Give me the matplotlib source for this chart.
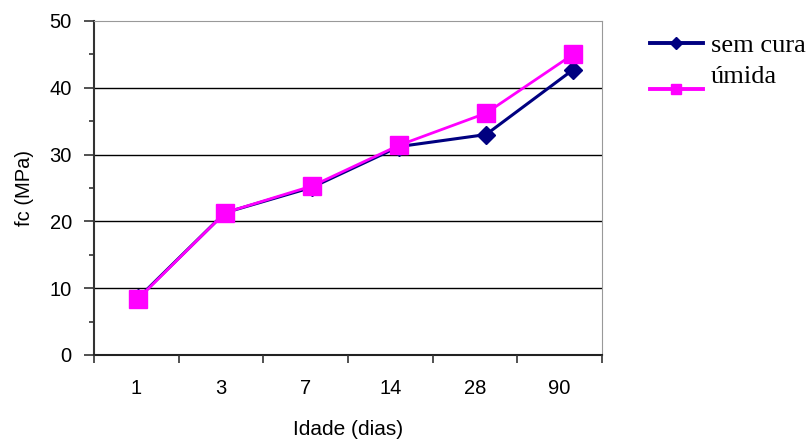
import numpy as np
import matplotlib.pyplot as plt

# dados
idades = ["1", "3", "7", "14", "28", "90"]
sem_cura = [8.5, 21.3, 25.1, 31.2, 33.0, 42.7]
umida = [8.4, 21.3, 25.3, 31.4, 36.2, 45.0]

fig = plt.figure(figsize=(8.1, 4.43), dpi=100)
ax = fig.add_axes([94 / 810, 88 / 443, 508 / 810, 334 / 443])

x = np.arange(len(idades))
ax.plot(x, sem_cura, color="#000080", linewidth=2.2, marker="D",
        markersize=9, label="sem cura", zorder=3)
ax.plot(x, umida, color="#FF00FF", linewidth=2.0, marker="s",
        markersize=13, label="úmida\n", zorder=4)

# no original (Excel) os pontos ficam levemente deslocados das categorias
ax.set_xlim(-0.506, 5.333)
ax.set_ylim(0, 50)
ax.set_xticks([])

for v in [10, 20, 30, 40]:
    ax.axhline(v, color="black", linewidth=1.0, zorder=1)

ax.set_yticks([0, 10, 20, 30, 40, 50])
ax.set_yticks([5, 15, 25, 35, 45], minor=True)
ax.tick_params(axis="y", which="major", length=7, width=1.2, color="#333333",
               pad=9, labelsize=14.5)
ax.tick_params(axis="y", which="minor", length=3.5, width=1.2, color="#333333")

# eixo das categorias
ax2 = ax.twiny()
ax2.set_xlim(-0.5, len(idades) - 0.5)
ax2.xaxis.set_ticks_position("bottom")
ax2.xaxis.set_label_position("bottom")
ax2.set_xticks(np.arange(len(idades)))
ax2.set_xticklabels(idades)
ax2.set_xticks(np.arange(len(idades) + 1) - 0.5, minor=True)
ax2.tick_params(axis="x", which="major", length=0, pad=17, labelsize=14.5)
ax2.tick_params(axis="x", which="minor", length=6, width=1.2, color="#333333")
for s in ax2.spines.values():
    s.set_visible(False)

for lab in ax2.get_xticklabels() + ax.get_yticklabels():
    lab.set_family("Liberation Sans")

ax.spines["left"].set_color("#333333")
ax.spines["left"].set_linewidth(1.5)
ax.spines["bottom"].set_color("#222222")
ax.spines["bottom"].set_linewidth(1.5)
ax.spines["top"].set_color("#999999")
ax.spines["right"].set_color("#999999")

ax2.set_xlabel("Idade (dias)", fontsize=15, family="Liberation Sans", labelpad=16)
ax.set_ylabel("fc (MPa)", fontsize=14.5, family="Liberation Sans", labelpad=11)

leg = fig.legend(*ax.get_legend_handles_labels(), loc="upper left",
                 bbox_to_anchor=(650 / 810, 1 - 34 / 443), frameon=False,
                 prop={"family": "Liberation Serif", "size": 19},
                 handlelength=2.0, handletextpad=0.3, labelspacing=0.32,
                 borderaxespad=0, borderpad=0)
for h, ms in zip(leg.legend_handles, [6, 7.5]):
    h.set_markersize(ms)
    h.set_linewidth(2.8)

plt.savefig("out.png", dpi=100)
